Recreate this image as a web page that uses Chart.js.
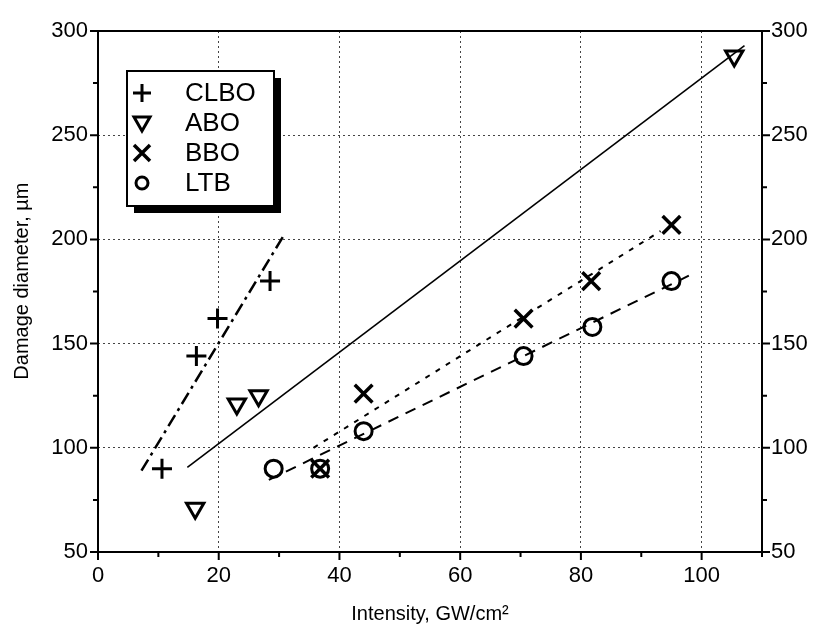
<!DOCTYPE html>
<html>
<head>
<meta charset="utf-8">
<script src="https://cdn.jsdelivr.net/npm/chart.js@4"></script>
<style>
  body { margin: 0; background: #fff; }
  #wrap { width: 813px; height: 630px; }
</style>
</head>
<body>
<div id="wrap"><canvas id="chart" width="813" height="630"></canvas></div>
<script>
// axis ranges and labelled ticks
const xRange = [0, 110];
const yRange = [50, 300];
const xTickLabels = [0, 20, 40, 60, 80, 100];
const yTickLabels = [50, 100, 150, 200, 250, 300];

const seriesNames = ['CLBO', 'ABO', 'BBO', 'LTB'];
const yTitle = 'Damage diameter, µm';

// measured points
const clboX = [10.6, 16.3, 19.8, 28.5];
const clboY = [90, 144, 162, 180];
const aboX = [16.1, 23.0, 26.6, 105.4];
const aboY = [71, 121, 125, 288];
const bboX = [36.8, 44.0, 70.5, 81.7, 95.0];
const bboY = [90, 126, 162, 180, 207];
const ltbX = [29.1, 36.8, 44.0, 70.5, 81.9, 95.0];
const ltbY = [90, 90, 108, 144, 158, 180];

// fit lines (end points)
const clboFitX = [7.2, 31.0];
const clboFitY = [89, 203];
const aboFitX = [14.8, 107.1];
const aboFitY = [90.6, 293];
const bboFitX = [35.7, 93.2];
const bboFitY = [100, 204];
const ltbFitX = [28.3, 97.9];
const ltbFitY = [84.6, 182.6];

const FONT = "'Liberation Sans', Arial, sans-serif";

function pts(xs, ys) {
  return xs.map((x, i) => ({ x: x, y: ys[i] }));
}

function markerSet(label, xs, ys, style, radius, width, rotation) {
  return {
    label: label,
    data: pts(xs, ys),
    showLine: false,
    pointStyle: style,
    pointRadius: radius,
    pointHoverRadius: radius,
    pointBorderWidth: width,
    pointRotation: rotation || 0,
    borderColor: '#000',
    backgroundColor: 'rgba(0,0,0,0)',
    order: 1
  };
}

function fitSet(xs, ys, dash, width) {
  return {
    label: 'fit',
    data: pts(xs, ys),
    showLine: true,
    pointRadius: 0,
    borderColor: '#000',
    borderWidth: width,
    borderDash: dash,
    fill: false,
    order: 2
  };
}

// box legend with drop shadow, drawn inside the plot
const boxLegend = {
  id: 'boxLegend',
  afterDatasetsDraw(chart) {
    const { ctx, chartArea } = chart;
    const x0 = chartArea.left + 29, y0 = chartArea.top + 40, w = 147, h = 135;
    ctx.save();
    ctx.fillStyle = '#000';
    ctx.fillRect(x0 + 7, y0 + 7, w, h);
    ctx.fillStyle = '#fff';
    ctx.fillRect(x0, y0, w, h);
    ctx.lineWidth = 2;
    ctx.strokeStyle = '#000';
    ctx.strokeRect(x0, y0, w, h);

    ctx.font = '26px ' + FONT;
    ctx.textBaseline = 'middle';
    ctx.fillStyle = '#000';
    seriesNames.forEach((name, i) => {
      const cy = y0 + 22 + i * 30;
      const cx = x0 + 15;
      ctx.beginPath();
      ctx.lineWidth = 3;
      if (i === 0) {
        ctx.moveTo(cx - 9, cy); ctx.lineTo(cx + 9, cy);
        ctx.moveTo(cx, cy - 9); ctx.lineTo(cx, cy + 9);
      } else if (i === 1) {
        ctx.moveTo(cx - 8, cy - 6); ctx.lineTo(cx + 8, cy - 6); ctx.lineTo(cx, cy + 8); ctx.closePath();
      } else if (i === 2) {
        ctx.lineWidth = 3.5;
        ctx.moveTo(cx - 8, cy - 8); ctx.lineTo(cx + 8, cy + 8);
        ctx.moveTo(cx + 8, cy - 8); ctx.lineTo(cx - 8, cy + 8);
      } else {
        ctx.arc(cx, cy, 6, 0, Math.PI * 2);
      }
      ctx.stroke();
      ctx.fillText(name, x0 + 58, cy + 1);
    });
    ctx.restore();
  }
};

// frame, outward tick marks (major + minor) and the y title
const frameTicks = {
  id: 'frameTicks',
  afterDraw(chart) {
    const { ctx, chartArea, scales } = chart;
    ctx.save();
    ctx.strokeStyle = '#000';
    ctx.lineWidth = 2;
    ctx.strokeRect(chartArea.left, chartArea.top, chartArea.right - chartArea.left, chartArea.bottom - chartArea.top);
    ctx.beginPath();
    for (let v = xRange[0]; v <= xRange[1]; v += 10) {
      const px = scales.x.getPixelForValue(v);
      const len = v % 20 === 0 ? 8 : 5;
      ctx.moveTo(px, chartArea.bottom);
      ctx.lineTo(px, chartArea.bottom + len);
    }
    for (let v = yRange[0]; v <= yRange[1]; v += 25) {
      const py = scales.y.getPixelForValue(v);
      const len = v % 50 === 0 ? 8 : 5;
      ctx.moveTo(chartArea.left, py);
      ctx.lineTo(chartArea.left - len, py);
      ctx.moveTo(chartArea.right, py);
      ctx.lineTo(chartArea.right + len, py);
    }
    ctx.stroke();

    // y title sits a little above the plot's middle in the original
    ctx.translate(22, scales.y.getPixelForValue(180));
    ctx.rotate(-Math.PI / 2);
    ctx.font = '20px ' + FONT;
    ctx.fillStyle = '#000';
    ctx.textAlign = 'center';
    ctx.textBaseline = 'middle';
    ctx.fillText(yTitle, 0, 0);
    ctx.restore();
  }
};

const gridColor = (ctx, every, lo, hi) => {
  const v = ctx.tick ? ctx.tick.value : null;
  if (v === null || v === lo || v === hi || v % every !== 0) return 'rgba(0,0,0,0)';
  return '#444';
};

new Chart(document.getElementById('chart'), {
  type: 'scatter',
  data: {
    datasets: [
      markerSet(seriesNames[0], clboX, clboY, 'cross', 10, 3),
      markerSet(seriesNames[1], aboX, aboY, 'triangle', 10, 3, 180),
      markerSet(seriesNames[2], bboX, bboY, 'crossRot', 12.5, 3.5),
      markerSet(seriesNames[3], ltbX, ltbY, 'circle', 8.5, 3),
      fitSet(clboFitX, clboFitY, [13, 5, 3, 5], 2.5),
      fitSet(aboFitX, aboFitY, [], 1.6),
      fitSet(bboFitX, bboFitY, [5, 7], 2),
      fitSet(ltbFitX, ltbFitY, [11, 8], 2)
    ]
  },
  options: {
    responsive: false,
    animation: false,
    layout: { padding: { top: 31 } },
    plugins: { legend: { display: false }, tooltip: { enabled: false } },
    scales: {
      x: {
        type: 'linear',
        min: xRange[0],
        max: xRange[1],
        afterFit: s => { s.height = 78; },
        ticks: {
          stepSize: 10,
          padding: 11,
          color: '#000',
          font: { family: FONT, size: 22 },
          callback: v => xTickLabels.includes(v) ? String(v) : ''
        },
        grid: {
          drawTicks: false,
          lineWidth: 1,
          color: c => gridColor(c, 20, xRange[0], xRange[1])
        },
        border: { display: false, dash: [2, 3] },
        title: {
          display: true,
          text: 'Intensity, GW/cm²',
          color: '#000',
          font: { family: FONT, size: 20 },
          padding: { bottom: 4 }
        }
      },
      y: {
        type: 'linear',
        position: 'left',
        min: yRange[0],
        max: yRange[1],
        afterFit: s => { s.width = 98; },
        ticks: {
          stepSize: 25,
          padding: 10,
          color: '#000',
          font: { family: FONT, size: 22 },
          callback: v => yTickLabels.includes(v) ? String(v) : ''
        },
        grid: {
          drawTicks: false,
          lineWidth: 1,
          color: c => gridColor(c, 50, yRange[0], yRange[1])
        },
        border: { display: false, dash: [2, 3] }
      },
      y2: {
        type: 'linear',
        position: 'right',
        min: yRange[0],
        max: yRange[1],
        afterFit: s => { s.width = 51; },
        ticks: {
          stepSize: 25,
          padding: 9,
          color: '#000',
          font: { family: FONT, size: 22 },
          callback: v => yTickLabels.includes(v) ? String(v) : ''
        },
        grid: { drawOnChartArea: false, drawTicks: false },
        border: { display: false }
      }
    }
  },
  plugins: [frameTicks, boxLegend]
});
</script>
</body>
</html>
